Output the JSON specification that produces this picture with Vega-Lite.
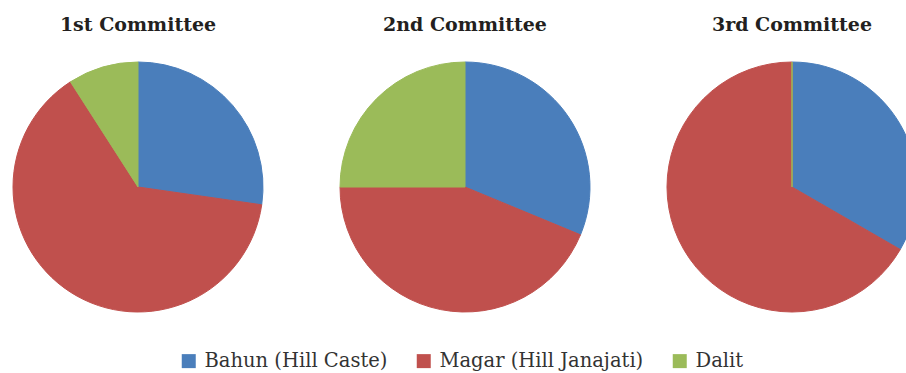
{
  "$schema": "https://vega.github.io/schema/vega-lite/v6.json",
  "background": "white",
  "padding": {"left": 5, "top": 16, "right": 5, "bottom": 5},
  "data": {
    "values": [
      {"committee": "1st Committee", "caste": "Bahun (Hill Caste)", "seq": 1, "members": 3},
      {"committee": "1st Committee", "caste": "Magar (Hill Janajati)", "seq": 2, "members": 7},
      {"committee": "1st Committee", "caste": "Dalit", "seq": 3, "members": 1},
      {"committee": "2nd Committee", "caste": "Bahun (Hill Caste)", "seq": 1, "members": 5},
      {"committee": "2nd Committee", "caste": "Magar (Hill Janajati)", "seq": 2, "members": 7},
      {"committee": "2nd Committee", "caste": "Dalit", "seq": 3, "members": 4},
      {"committee": "3rd Committee", "caste": "Bahun (Hill Caste)", "seq": 1, "members": 4},
      {"committee": "3rd Committee", "caste": "Magar (Hill Janajati)", "seq": 2, "members": 8},
      {"committee": "3rd Committee", "caste": "Dalit", "seq": 3, "members": 0}
    ]
  },
  "facet": {
    "column": {
      "field": "committee",
      "type": "nominal",
      "title": null,
      "sort": ["1st Committee", "2nd Committee", "3rd Committee"],
      "header": {
        "labelFont": "DejaVu Serif",
        "labelFontSize": 19,
        "labelFontWeight": "bold",
        "labelColor": "#231f20",
        "labelPadding": 25
      }
    }
  },
  "spacing": 61,
  "spec": {
    "width": 266,
    "height": 250,
    "mark": {"type": "arc", "strokeWidth": 1},
    "encoding": {
      "theta": {"field": "members", "type": "quantitative", "stack": true},
      "order": {"field": "seq", "type": "quantitative"},
      "color": {
        "field": "caste",
        "type": "nominal",
        "scale": {
          "domain": ["Bahun (Hill Caste)", "Magar (Hill Janajati)", "Dalit"],
          "range": ["#4a7ebb", "#c0504d", "#9bbb59"]
        },
        "legend": {
          "title": null,
          "orient": "none",
          "direction": "horizontal",
          "legendX": 174,
          "legendY": 289,
          "padding": 0,
          "symbolType": "square",
          "symbolSize": 196,
          "symbolStrokeWidth": 0,
          "labelFont": "DejaVu Serif",
          "labelFontSize": 19.5,
          "labelColor": "#333333",
          "labelOffset": 6,
          "labelLimit": 400,
          "columnPadding": 26,
          "encode": {
            "symbols": {
              "update": {
                "fill": {"signal": "datum.value === 'Bahun (Hill Caste)' ? '#1f6fc2' : scale('color', datum.value)"},
                "strokeWidth": {"value": 0}
              }
            }
          }
        }
      },
      "stroke": {
        "field": "caste",
        "type": "nominal",
        "scale": {
          "domain": ["Bahun (Hill Caste)", "Magar (Hill Janajati)", "Dalit"],
          "range": ["#4a7ebb", "#c0504d", "#9bbb59"]
        },
        "legend": null
      }
    }
  },
  "config": {
    "view": {"stroke": null}
  }
}
